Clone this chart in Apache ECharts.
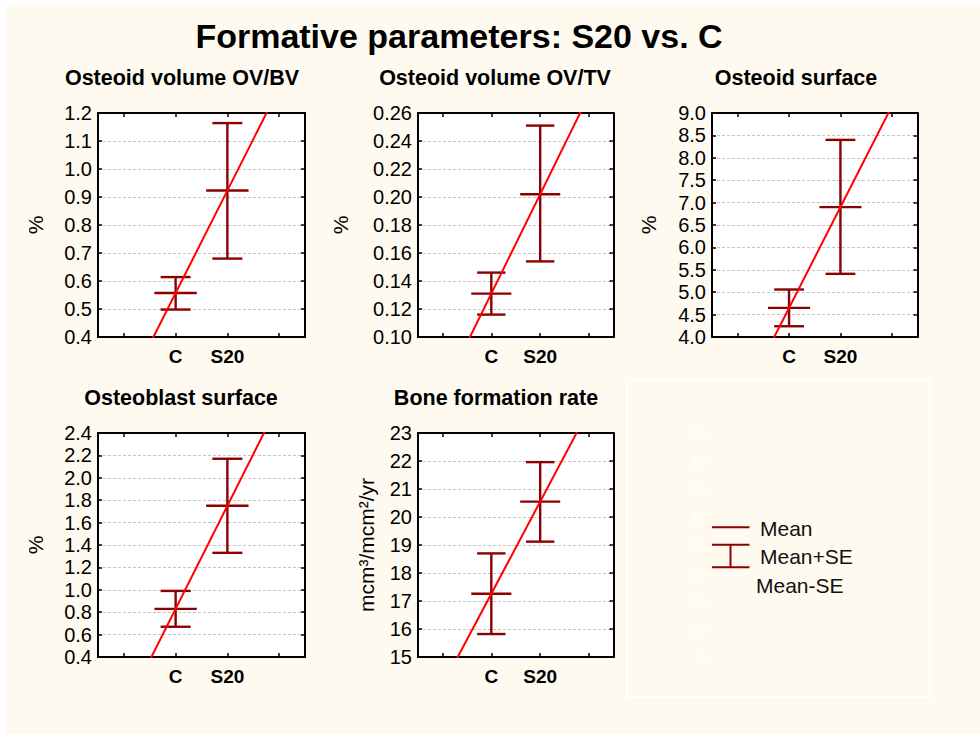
<!DOCTYPE html>
<html>
<head>
<meta charset="utf-8">
<script src="https://cdn.jsdelivr.net/npm/echarts@6/dist/echarts.min.js"></script>
<style>
html,body{margin:0;padding:0;background:#ffffff;width:980px;height:734px;overflow:hidden;}
#bg{position:absolute;left:6px;top:5px;right:0;bottom:0;background:#FFFAF0;}
#chart{position:absolute;left:0;top:0;width:980px;height:734px;}
</style>
</head>
<body>
<div id="bg"></div>
<div id="chart"></div>
<script>
// ---- data ----
const mainTitle = 'Formative parameters: S20 vs. C';
const categories = ['C', 'S20'];
const panelTitles = ['Osteoid volume OV/BV', 'Osteoid volume OV/TV', 'Osteoid surface', 'Osteoblast surface', 'Bone formation rate'];
const yNames = ['%', '%', '%', '%', 'mcm³/mcm²/yr'];

const ovbvMean  = [0.557, 0.923];
const ovbvLower = [0.498, 0.680];
const ovbvUpper = [0.614, 1.164];

const ovtvMean  = [0.131, 0.202];
const ovtvLower = [0.116, 0.154];
const ovtvUpper = [0.146, 0.251];

const osMean  = [4.65, 6.90];
const osLower = [4.24, 5.41];
const osUpper = [5.06, 8.40];

const obsMean  = [0.83, 1.75];
const obsLower = [0.67, 1.33];
const obsUpper = [0.99, 2.17];

const bfrMean  = [17.26, 20.55];
const bfrLower = [15.82, 19.12];
const bfrUpper = [18.70, 21.96];

// axis ranges (tick labels)
const yMins = [0.4, 0.10, 4.0, 0.4, 15];
const yMaxs = [1.2, 0.26, 9.0, 2.4, 23];
const yIntervals = [0.1, 0.02, 0.5, 0.2, 1];
const yDecimals = [1, 2, 1, 1, 0];

const legendLabels = ['Mean', 'Mean+SE', 'Mean-SE'];
const ghostMin = 5, ghostMax = 45, ghostInterval = 5;

// ---- layout ----
const FONT = "'Liberation Sans', Arial, Helvetica, sans-serif";
const DARKRED = '#8B0000';
const grids = [
  {left: 98,  top: 113, width: 207,   height: 224},
  {left: 418, top: 113, width: 195.5, height: 224},
  {left: 712, top: 113, width: 205.5, height: 224},
  {left: 98,  top: 433, width: 207,   height: 224},
  {left: 418, top: 433, width: 195.5, height: 224}
];
const nameGaps = [52, 67, 53, 52, 41];
const titleCenters = [[182, 78.4], [495, 78.4], [796, 78.4], [181, 398.4], [496, 398.4]];

const panels = [
  [ovbvMean, ovbvLower, ovbvUpper],
  [ovtvMean, ovtvLower, ovtvUpper],
  [osMean, osLower, osUpper],
  [obsMean, obsLower, obsUpper],
  [bfrMean, bfrLower, bfrUpper]
];

const catData = [''].concat(categories).concat(['']);
const gridOpt = [], xAxes = [], yAxes = [], series = [];

function lineStyleBlack(w) { return {color: '#000', width: w}; }

panels.forEach(function (p, i) {
  const g = grids[i];
  gridOpt.push({left: g.left, top: g.top, width: g.width, height: g.height,
    show: true, backgroundColor: '#ffffff', borderWidth: 0, containLabel: false});
  // hidden value x axis for data
  xAxes.push({type: 'value', gridIndex: i, min: 0, max: 4, show: false});
  // visible bottom category axis
  xAxes.push({type: 'category', gridIndex: i, data: catData, position: 'bottom',
    axisLine: {show: true, lineStyle: lineStyleBlack(2)},
    axisTick: {show: true, inside: true, alignWithLabel: true, interval: 0, length: 4, lineStyle: lineStyleBlack(1.5)},
    axisLabel: {show: true, interval: 0, margin: 10, fontSize: 19, fontWeight: 'bold', color: '#000', fontFamily: FONT},
    splitLine: {show: false}});
  // top category axis (ticks only)
  xAxes.push({type: 'category', gridIndex: i, data: catData, position: 'top',
    axisLine: {show: true, lineStyle: lineStyleBlack(2)},
    axisTick: {show: true, inside: true, alignWithLabel: true, interval: 0, length: 4, lineStyle: lineStyleBlack(1.5)},
    axisLabel: {show: false}, splitLine: {show: false}});
  const dec = yDecimals[i];
  yAxes.push({type: 'value', gridIndex: i, min: yMins[i], max: yMaxs[i], interval: yIntervals[i], position: 'left',
    name: yNames[i], nameLocation: 'middle', nameGap: nameGaps[i], nameRotate: 90,
    nameTextStyle: {fontSize: 21, color: '#000', fontFamily: FONT},
    axisLine: {show: true, lineStyle: lineStyleBlack(2)},
    axisTick: {show: true, inside: true, length: 4, lineStyle: lineStyleBlack(1.5)},
    axisLabel: {show: true, margin: 6, fontSize: 20, color: '#000', fontFamily: FONT,
      formatter: function (v) { return Number(v).toFixed(dec); }},
    splitLine: {show: true, lineStyle: {color: '#c4c4c4', width: 1, type: [3, 2]}}});
  yAxes.push({type: 'value', gridIndex: i, min: yMins[i], max: yMaxs[i], interval: yIntervals[i], position: 'right',
    axisLine: {show: true, lineStyle: lineStyleBlack(2)},
    axisTick: {show: true, inside: true, length: 4, lineStyle: lineStyleBlack(1.5)},
    axisLabel: {show: false}, splitLine: {show: false}});

  const mean = p[0], lower = p[1], upper = p[2];
  // x position of each category on the hidden value axis (category centre)
  const xs = categories.map(function (c, j) { return j + 1.5; });
  const errData = categories.map(function (c, j) { return [xs[j], mean[j], lower[j], upper[j]]; });
  // straight line through the two means, extended to the plot edges (clipped)
  const slope = (mean[1] - mean[0]) / (xs[1] - xs[0]);
  const lineData = [[0, mean[0] + slope * (0 - xs[0])], [4, mean[0] + slope * (4 - xs[0])]];

  series.push({type: 'custom', xAxisIndex: 3 * i, yAxisIndex: 2 * i, data: errData, z: 2, clip: true,
    encode: {x: 0, y: [1, 2, 3]},
    renderItem: function (params, api) {
      const x = api.value(0);
      const m = api.coord([x, api.value(1)]);
      const lo = api.coord([x, api.value(2)]);
      const hi = api.coord([x, api.value(3)]);
      const unit = api.size([1, 0])[0];
      const mw = unit * 0.41, cw = unit * 0.29;
      function st() { return {stroke: DARKRED, lineWidth: 2.4, fill: null}; }
      return {type: 'group', children: [
        {type: 'line', shape: {x1: m[0], y1: hi[1], x2: m[0], y2: lo[1]}, style: st()},
        {type: 'line', shape: {x1: m[0] - cw, y1: hi[1], x2: m[0] + cw, y2: hi[1]}, style: st()},
        {type: 'line', shape: {x1: m[0] - cw, y1: lo[1], x2: m[0] + cw, y2: lo[1]}, style: st()},
        {type: 'line', shape: {x1: m[0] - mw, y1: m[1], x2: m[0] + mw, y2: m[1]}, style: st()}
      ]};
    }});
  series.push({type: 'line', xAxisIndex: 3 * i, yAxisIndex: 2 * i, data: lineData, symbol: 'none',
    clip: true, z: 3, silent: true, lineStyle: {color: '#ff0000', width: 2}});
});

// ghost (legend) panel with faint white axis labels
gridOpt.push({left: 710, top: 433, width: 200, height: 224, show: false});
xAxes.push({type: 'value', gridIndex: 5, min: 0, max: 1, show: false});
yAxes.push({type: 'value', gridIndex: 5, min: ghostMin, max: ghostMax, interval: ghostInterval, position: 'left',
  axisLine: {show: false}, axisTick: {show: false}, splitLine: {show: false},
  axisLabel: {show: true, margin: 5, fontSize: 13, color: '#ffffff', fontFamily: FONT}});

const graphics = [];
graphics.push({type: 'text', x: 459, y: 36, style: {text: mainTitle, font: 'bold 34px ' + FONT, fill: '#000',
  textAlign: 'center', align: 'center', textVerticalAlign: 'middle', verticalAlign: 'middle'}});
panelTitles.forEach(function (t, i) {
  graphics.push({type: 'text', x: titleCenters[i][0], y: titleCenters[i][1], style: {text: t, font: 'bold 21.5px ' + FONT, fill: '#000',
    textAlign: 'center', align: 'center', textVerticalAlign: 'middle', verticalAlign: 'middle'}});
});
// ghost frame
graphics.push({type: 'rect', shape: {x: 627, y: 380, width: 303, height: 317}, style: {stroke: '#ffffff', lineWidth: 2, fill: null}, z: -1});
// legend symbols
const lgStyle = function () { return {stroke: DARKRED, lineWidth: 2}; };
graphics.push({type: 'line', shape: {x1: 712, y1: 527.3, x2: 749.5, y2: 527.3}, style: lgStyle()});
graphics.push({type: 'line', shape: {x1: 712, y1: 544.7, x2: 749.5, y2: 544.7}, style: lgStyle()});
graphics.push({type: 'line', shape: {x1: 712, y1: 567.3, x2: 749.5, y2: 567.3}, style: lgStyle()});
graphics.push({type: 'line', shape: {x1: 730.5, y1: 544.7, x2: 730.5, y2: 567.3}, style: lgStyle()});
const legendPos = [[760, 528.3], [760, 556.2], [756, 585]];
legendLabels.forEach(function (t, i) {
  graphics.push({type: 'text', x: legendPos[i][0], y: legendPos[i][1], style: {text: t, font: '21px ' + FONT, fill: '#111',
    textAlign: 'left', align: 'left', textVerticalAlign: 'middle', verticalAlign: 'middle'}});
});

const chart = echarts.init(document.getElementById('chart'), null, {renderer: 'svg', width: 980, height: 734});
chart.setOption({
  animation: false,
  backgroundColor: 'transparent',
  textStyle: {fontFamily: FONT},
  grid: gridOpt,
  xAxis: xAxes,
  yAxis: yAxes,
  series: series,
  graphic: {elements: graphics}
});
</script>
</body>
</html>
